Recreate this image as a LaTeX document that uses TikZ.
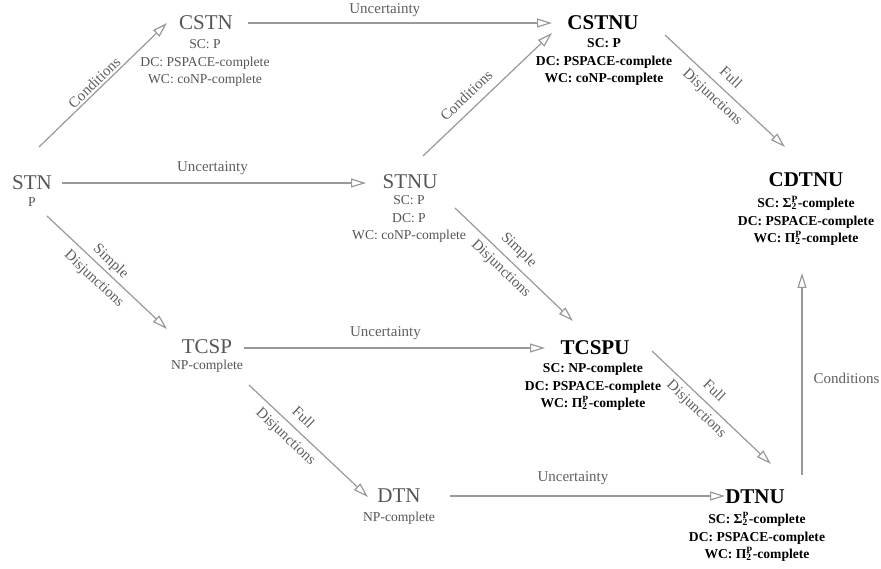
\documentclass[tikz,border=0pt]{standalone}
\usepackage{fontspec}
\setmainfont{Liberation Serif}
\usetikzlibrary{arrows.meta}
\definecolor{txtgray}{HTML}{555555}
\definecolor{lblgray}{HTML}{5F5F5F}
\definecolor{arrgray}{HTML}{999999}
\newcommand{\SigTwoP}{Σ\rlap{\textsubscript{2}}\textsuperscript{P}}
\newcommand{\PiTwoP}{Π\rlap{\textsubscript{2}}\textsuperscript{P}}
\begin{document}
\begin{tikzpicture}[x=1pt,y=-1pt,
  ptitle/.style={inner sep=0pt, text=txtgray, font=\fontsize{21}{24}\selectfont},
  btitle/.style={inner sep=0pt, text=black, font=\fontsize{21}{24}\selectfont\bfseries},
  psub/.style={inner sep=0pt, text=txtgray, align=center, font=\fontsize{13.6}{17.5}\selectfont},
  bsub/.style={inner sep=0pt, text=black, align=center, font=\fontsize{13.6}{17.5}\selectfont\bfseries},
  arr/.style={draw=arrgray, line width=1.2pt, -{Triangle[open, length=15pt, width=9pt, line width=1.2pt]}},
  lbl/.style={text=lblgray, font=\fontsize{15}{18}\selectfont, inner sep=0pt},
]
\useasboundingbox (0,0) rectangle (881,569);

% titles
\node[ptitle] (stn)   at (32,183)  {STN};
\node[ptitle] (cstn)  at (206,23)  {CSTN};
\node[btitle] (cstnu) at (603,23)  {CSTNU};
\node[ptitle] (stnu)  at (410,182) {STNU};
\node[btitle] (cdtnu) at (806,180) {CDTNU};
\node[ptitle] (tcsp)  at (207,347) {TCSP};
\node[btitle] (tcspu) at (595,348) {TCSPU};
\node[ptitle] (dtn)   at (399,496) {DTN};
\node[btitle] (dtnu)  at (755,497) {DTNU};

% complexity texts
\node[psub] (stnsub)   at (32,202)  {P};
\node[psub] (cstnsub)  at (205,63)  {SC: P\\DC: PSPACE-complete\\WC: coNP-complete};
\node[bsub] (cstnusub) at (604,62)  {SC: P\\DC: PSPACE-complete\\WC: coNP-complete};
\node[psub] (stnusub)  at (409,219) {SC: P\\DC: P\\WC: coNP-complete};
\node[bsub] (cdtnusub) at (806,221) {SC: \SigTwoP-complete\\DC: PSPACE-complete\\WC: \PiTwoP-complete};
\node[psub] (tcspsub)  at (207,366) {NP-complete};
\node[bsub] (tcspusub) at (593,387) {SC: NP-complete\\DC: PSPACE-complete\\WC: \PiTwoP-complete};
\node[psub] (dtnsub)   at (399,518) {NP-complete};
\node[bsub] (dtnusub)  at (757,537) {SC: \SigTwoP-complete\\DC: PSPACE-complete\\WC: \PiTwoP-complete};

% connectors
\draw[arr] ([shift={(7,-36)}]stn.center) -- ([shift={(-39,0)}]cstn.center)
  node[lbl, pos=.475, sloped, above=2pt] (l1) {Conditions};
\draw[arr] ([shift={(42,0)}]cstn.center) -- ([shift={(-51,0)}]cstnu.center)
  node[lbl, pos=.45, above=6pt] (l2) {Uncertainty};
\draw[arr] ([shift={(30,0)}]stn.center) -- ([shift={(-44,1)}]stnu.center)
  node[lbl, pos=.495, above=8pt] (l3) {Uncertainty};
\draw[arr] ([shift={(13,-26)}]stnu.center) -- ([shift={(-51,10)}]cstnu.center)
  node[lbl, pos=.41, sloped, above=8pt] (l4) {Conditions};
\draw[arr] ([shift={(62,12)}]cstnu.center) -- ([shift={(-21,-33)}]cdtnu.center)
  node[lbl, pos=.47, sloped, above=8.5pt] (l5a) {Full}
  node[lbl, pos=.47, sloped, below=6.5pt] (l5b) {Disjunctions};
\draw[arr] ([shift={(15,33)}]stn.center) -- ([shift={(-40,-18)}]tcsp.center)
  node[lbl, pos=.47, sloped, above=3pt] (l6a) {Simple}
  node[lbl, pos=.47, sloped, below=7pt] (l6b) {Disjunctions};
\draw[arr] ([shift={(45,26)}]stnu.center) -- ([shift={(-22,-27)}]tcspu.center)
  node[lbl, pos=.46, sloped, above=6pt] (l7a) {Simple}
  node[lbl, pos=.46, sloped, below=5.5pt] (l7b) {Disjunctions};
\draw[arr] ([shift={(37,1)}]tcsp.center) -- ([shift={(-50,0)}]tcspu.center)
  node[lbl, pos=.47, above=8pt] (l8) {Uncertainty};
\draw[arr] ([shift={(42,38)}]tcsp.center) -- ([shift={(-31,1)}]dtn.center)
  node[lbl, pos=.38, sloped, above=8pt] (l9a) {Full}
  node[lbl, pos=.38, sloped, below=6pt] (l9b) {Disjunctions};
\draw[arr] ([shift={(57,3)}]tcspu.center) -- ([shift={(16,-33)}]dtnu.center)
  node[lbl, pos=.44, sloped, above=9pt] (l10a) {Full}
  node[lbl, pos=.44, sloped, below=5pt] (l10b) {Disjunctions};
\draw[arr] ([shift={(51,0)}]dtn.center) -- ([shift={(-30,-1)}]dtnu.center)
  node[lbl, pos=.447, above=11pt] (l11) {Uncertainty};
\draw[arr] ([shift={(47,-22)}]dtnu.center) -- ([shift={(-4,93)}]cdtnu.center)
  node[lbl, pos=.48, right=11pt] (l12) {Conditions};
\end{tikzpicture}
\end{document}
